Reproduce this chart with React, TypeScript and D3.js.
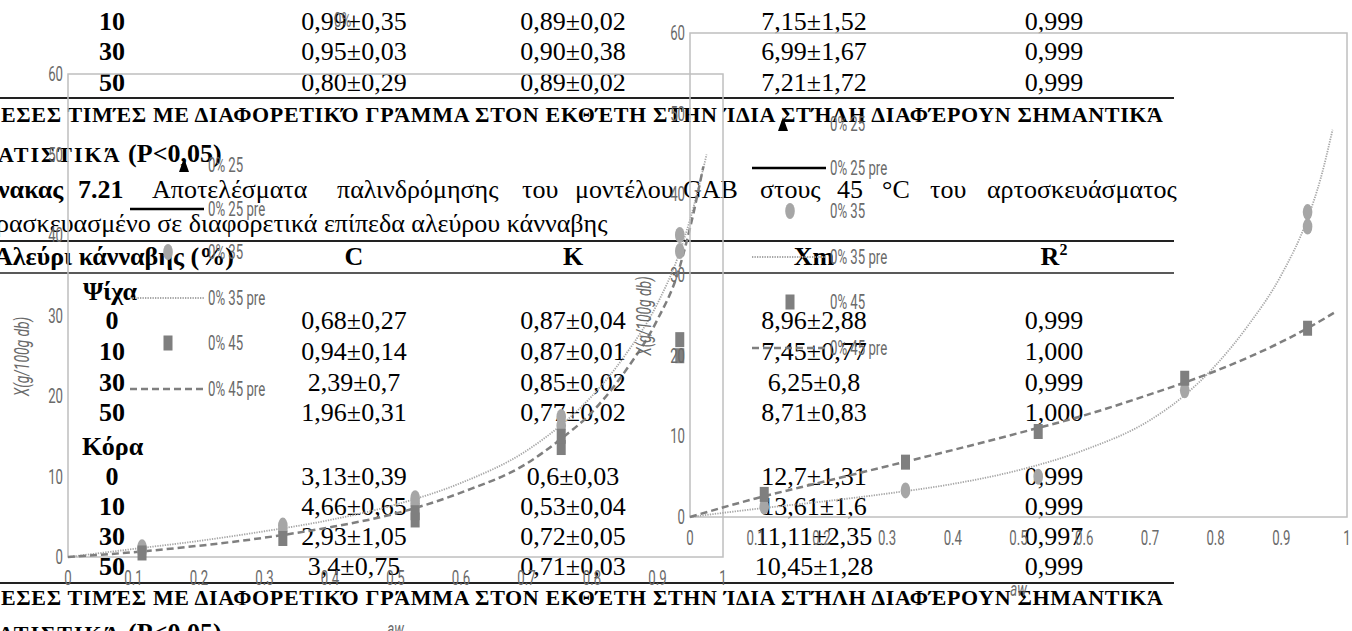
import React from 'react';
import * as d3 from 'd3';

const W = 1352;
const H = 631;

// ---------------- table data ----------------
const prevLevels = ['10', '30', '50'];
const prevC = ['0,99±0,35', '0,95±0,03', '0,80±0,29'];
const prevK = ['0,89±0,02', '0,90±0,38', '0,89±0,02'];
const prevXm = ['7,15±1,52', '6,99±1,67', '7,21±1,72'];
const prevR2 = ['0,999', '0,999', '0,999'];

const crumbLevels = ['0', '10', '30', '50'];
const crumbC = ['0,68±0,27', '0,94±0,14', '2,39±0,7', '1,96±0,31'];
const crumbK = ['0,87±0,04', '0,87±0,01', '0,85±0,02', '0,77±0,02'];
const crumbXm = ['8,96±2,88', '7,45±0,77', '6,25±0,8', '8,71±0,83'];
const crumbR2 = ['0,999', '1,000', '0,999', '1,000'];

const crustLevels = ['0', '10', '30', '50'];
const crustC = ['3,13±0,39', '4,66±0,65', '2,93±1,05', '3,4±0,75'];
const crustK = ['0,6±0,03', '0,53±0,04', '0,72±0,05', '0,71±0,03'];
const crustXm = ['12,7±1,31', '13,61±1,6', '11,11±2,35', '10,45±1,28'];
const crustR2 = ['0,999', '0,999', '0,997', '0,999'];

const noteLine1 = 'ΕΣΕΣ ΤΙΜΈΣ ΜΕ ΔΙΑΦΟΡΕΤΙΚΌ ΓΡΆΜΜΑ ΣΤΟΝ ΕΚΘΈΤΗ ΣΤΗΝ ΊΔΙΑ ΣΤΉΛΗ ΔΙΑΦΈΡΟΥΝ ΣΗΜΑΝΤΙΚΆ';
const noteLine2a = 'ΑΤΙΣΤΙΚΆ';
const noteLine2b = ' (P<0,05)';
const captionWords = ['νακας', '7.21', 'Αποτελέσματα', 'παλινδρόμησης', 'του', 'μοντέλου', 'GAB', 'στους', '45', '°C', 'του', 'αρτοσκευάσματος'];
const captionLine2 = 'ρασκευασμένο σε διαφορετικά επίπεδα αλεύρου κάνναβης';
const headers = ['C', 'K', 'Xm', 'R'];
const firstHeader = 'Αλεύρι κάνναβης (%)';
const groupNames = ['Ψίχα', 'Κόρα'];
const strayLabel = '0%';

// ---------------- chart data ----------------
const xTicks = [0, 0.1, 0.2, 0.3, 0.4, 0.5, 0.6, 0.7, 0.8, 0.9, 1];
const yTicks = [0, 10, 20, 30, 40, 50, 60];
const legendLabels = ['0% 25', '0% 25 pre', '0% 35', '0% 35 pre', '0% 45', '0% 45 pre'];
const yTitle = 'X(g/100g db)';
const xTitle = 'aw';

// crumb (left chart)
const crumbAw35 = [0.113, 0.113, 0.328, 0.328, 0.53, 0.53, 0.753, 0.753, 0.934, 0.934];
const crumbX35 = [0.8, 1.2, 3.3, 3.9, 6.6, 7.3, 16.3, 17.4, 38, 40];
const crumbAw45 = [0.113, 0.328, 0.53, 0.53, 0.753, 0.753, 0.934, 0.934];
const crumbX45 = [0.5, 2.3, 4.6, 5.5, 13.6, 15.0, 25, 27];
const crumbFitAw35 = [0, 0.1, 0.2, 0.3, 0.4, 0.5, 0.6, 0.7, 0.75, 0.8, 0.85, 0.9, 0.93, 0.95, 0.975];
const crumbFit35 = [0, 1.0, 2.0, 3.2, 4.6, 6.5, 9.2, 13.2, 16.2, 20, 25, 31.5, 37, 42, 50];
const crumbFitAw45 = [0, 0.1, 0.2, 0.3, 0.4, 0.5, 0.6, 0.7, 0.75, 0.8, 0.85, 0.9, 0.93, 0.95, 0.97];
const crumbFit45 = [0, 0.6, 1.4, 2.4, 3.7, 5.4, 8.0, 11.6, 14.5, 18, 23, 29.5, 35, 41, 48.5];

// crust (right chart)
const crustAw35 = [0.113, 0.328, 0.53, 0.753, 0.94, 0.94];
const crustX35 = [1.3, 3.3, 5.0, 15.7, 36.0, 37.8];
const crustAw45 = [0.113, 0.328, 0.53, 0.753, 0.94];
const crustX45 = [2.8, 6.8, 10.6, 17.2, 23.4];
const crustFitAw35 = [0, 0.1, 0.2, 0.3, 0.4, 0.5, 0.6, 0.7, 0.75, 0.8, 0.85, 0.9, 0.94, 0.96, 0.978];
const crustFit35 = [0, 1.0, 1.9, 2.9, 4.1, 5.8, 8.3, 12.0, 14.9, 18.8, 23.8, 30, 37, 42, 48];
const crustFitAw45 = [0, 0.1, 0.2, 0.3, 0.4, 0.5, 0.6, 0.7, 0.8, 0.9, 0.94, 0.98];
const crustFit45 = [0, 2.3, 4.3, 6.3, 8.3, 10.4, 12.6, 15.2, 18.1, 21.7, 23.4, 25.3];

// ---------------- styles ----------------
const SERIF = "'Liberation Serif', 'Times New Roman', serif";
const NARROW = "Roboto, 'Open Sans', 'Noto Sans', sans-serif";
const SQUEEZE = 0.66;
const AXIS_GRAY = '#6a6a6a';
const FRAME = '#bfbfbf';
const C35 = '#a6a6a6';
const C45 = '#7f7f7f';

// layout constants (document)
const colLbl = 112;
const colC = 354;
const colK = 573;
const colXm = 814;
const colR2 = 1054;
const ruleEnd = 1174;
const captionX = [-2, 78, 152, 337, 522, 575, 683, 760, 837, 882, 930, 987];

function NText({ x, y, anchor = 'start', rotate = 0, size = 20, italic = false, children }: any) {
  return (
    <text
      transform={`translate(${x},${y}) rotate(${rotate}) scale(${SQUEEZE},1)`}
      textAnchor={anchor}
      dominantBaseline="central"
      fontFamily={NARROW}
      fontWeight={400}
      fontStyle={italic ? 'italic' : 'normal'}
      fontSize={size}
      fill={AXIS_GRAY}
    >
      {children}
    </text>
  );
}

function Row({ y, lbl, c, k, xm, r2 }: any) {
  const b = y + 8;
  return (
    <g fontFamily={SERIF} fontSize={26} fill="#000">
      <text x={colLbl} y={b} textAnchor="middle" fontWeight="bold">{lbl}</text>
      <text x={colC} y={b} textAnchor="middle">{c}</text>
      <text x={colK} y={b} textAnchor="middle">{k}</text>
      <text x={colXm} y={b} textAnchor="middle">{xm}</text>
      <text x={colR2} y={b} textAnchor="middle">{r2}</text>
    </g>
  );
}

function DocText() {
  const prevY = [22, 52, 83];
  const crumbY = [321, 352, 383, 413];
  const crustY = [477, 507, 537, 567];
  return (
    <g>
      {prevLevels.map((l, i) => (
        <Row key={'p' + i} y={prevY[i]} lbl={l} c={prevC[i]} k={prevK[i]} xm={prevXm[i]} r2={prevR2[i]} />
      ))}
      <NText x={334} y={20} size={20}>{strayLabel}</NText>
      <line x1={0} x2={ruleEnd} y1={98} y2={98} stroke="#222" strokeWidth={2} />
      <text x={1} y={122} fontFamily={SERIF} fontSize={22} fontWeight="bold" textLength={1162} lengthAdjust="spacing">{noteLine1}</text>
      <text x={-2} y={162} fontFamily={SERIF} fontWeight="bold">
        <tspan fontSize={22} letterSpacing={2}>{noteLine2a}</tspan>
        <tspan fontSize={26}>{noteLine2b}</tspan>
      </text>
      {captionWords.map((w, i) => (
        <text key={'cw' + i} x={captionX[i]} y={198} fontFamily={SERIF} fontSize={26} fontWeight={i < 2 ? 'bold' : 'normal'}>{w}</text>
      ))}
      <text x={-4} y={232} fontFamily={SERIF} fontSize={26}>{captionLine2}</text>
      <line x1={0} x2={ruleEnd} y1={241} y2={241} stroke="#222" strokeWidth={2} />
      <g fontFamily={SERIF} fontSize={26} fontWeight="bold">
        <text x={-6} y={265}>{firstHeader}</text>
        <text x={colC} y={265} textAnchor="middle">{headers[0]}</text>
        <text x={colK} y={265} textAnchor="middle">{headers[1]}</text>
        <text x={colXm} y={265} textAnchor="middle">{headers[2]}</text>
        <text x={colR2} y={265} textAnchor="middle">{headers[3]}<tspan fontSize={16} dy={-10}>2</tspan></text>
      </g>
      <line x1={0} x2={ruleEnd} y1={273} y2={273} stroke="#222" strokeWidth={1.6} />
      <text x={83} y={300} fontFamily={SERIF} fontSize={26} fontWeight="bold">{groupNames[0]}</text>
      {crumbLevels.map((l, i) => (
        <Row key={'c' + i} y={crumbY[i]} lbl={l} c={crumbC[i]} k={crumbK[i]} xm={crumbXm[i]} r2={crumbR2[i]} />
      ))}
      <text x={82} y={455} fontFamily={SERIF} fontSize={26} fontWeight="bold">{groupNames[1]}</text>
      {crustLevels.map((l, i) => (
        <Row key={'k' + i} y={crustY[i]} lbl={l} c={crustC[i]} k={crustK[i]} xm={crustXm[i]} r2={crustR2[i]} />
      ))}
      <line x1={0} x2={ruleEnd} y1={583} y2={583} stroke="#222" strokeWidth={2} />
      <text x={1} y={605} fontFamily={SERIF} fontSize={22} fontWeight="bold" textLength={1162} lengthAdjust="spacing">{noteLine1}</text>
      <text x={-2} y={641} fontFamily={SERIF} fontWeight="bold">
        <tspan fontSize={22} letterSpacing={2}>{noteLine2a}</tspan>
        <tspan fontSize={26}>{noteLine2b}</tspan>
      </text>
    </g>
  );
}

function Chart({ ox, oy, w, h, aw35, x35, aw45, x45, fitAw35, fit35, fitAw45, fit45, triDx }: any) {
  const x = d3.scaleLinear().domain([0, 1]).range([ox, ox + w]);
  const y = d3.scaleLinear().domain([0, 60]).range([oy + h, oy]);
  const line = d3
    .line<[number, number]>()
    .x((d) => x(d[0]))
    .y((d) => y(d[1]))
    .curve(d3.curveMonotoneX);
  const f35 = fitAw35.map((a: number, i: number) => [a, fit35[i]] as [number, number]);
  const f45 = fitAw45.map((a: number, i: number) => [a, fit45[i]] as [number, number]);
  const legY = [91, 135, 178, 224, 269, 315].map((v) => oy + v);
  const lx1 = ox + 62;
  const lx2 = ox + 136;
  const mx = ox + 100;
  const tmx = mx + triDx;
  const tx = ox + 140;
  return (
    <g>
      <rect x={ox} y={oy} width={w} height={h} fill="none" stroke={FRAME} strokeWidth={1.5} />
      {yTicks.map((t) => (
        <NText key={'y' + t} x={ox - 5} y={y(t)} anchor="end">{t}</NText>
      ))}
      {xTicks.map((t) => (
        <NText key={'x' + t} x={x(t)} y={oy + h + 21} anchor="middle">{d3.format('~g')(t)}</NText>
      ))}
      <NText x={ox - 47} y={oy + h / 2 + 41} anchor="middle" rotate={-90} italic size={21}>{yTitle}</NText>
      <NText x={ox + w / 2} y={oy + h + 72} anchor="middle" italic size={20}>{xTitle}</NText>
      {/* fitted curves */}
      <path d={line(f35) || ''} fill="none" stroke={C35} strokeWidth={1.8} strokeDasharray="1.3 1.2" />
      <path d={line(f45) || ''} fill="none" stroke={C45} strokeWidth={2.5} strokeDasharray="7 4" />
      {/* data markers */}
      {aw35.map((a: number, i: number) => (
        <ellipse key={'c' + i} cx={x(a)} cy={y(x35[i])} rx={4.8} ry={8} fill={C35} />
      ))}
      {aw45.map((a: number, i: number) => (
        <rect key={'s' + i} x={x(a) - 4.5} y={y(x45[i]) - 7.5} width={9} height={15} fill={C45} />
      ))}
      {/* legend */}
      <path d={`M${tmx - 5},${legY[0] + 7} L${tmx},${legY[0] - 7} L${tmx + 5},${legY[0] + 7} Z`} fill="#000" />
      <line x1={lx1} x2={lx2} y1={legY[1]} y2={legY[1]} stroke="#000" strokeWidth={2.5} />
      <ellipse cx={mx} cy={legY[2]} rx={4.8} ry={8} fill={C35} />
      <line x1={lx1} x2={lx2} y1={legY[3]} y2={legY[3]} stroke={C35} strokeWidth={1.8} strokeDasharray="1.3 1.2" />
      <rect x={mx - 4.5} y={legY[4] - 7.5} width={9} height={15} fill={C45} />
      <line x1={lx1} x2={lx2} y1={legY[5]} y2={legY[5]} stroke={C45} strokeWidth={2.5} strokeDasharray="7 4" />
      {legendLabels.map((l, i) => (
        <NText key={'l' + i} x={tx} y={legY[i]}>{l}</NText>
      ))}
    </g>
  );
}

export default function App() {
  return (
    <svg width={W} height={H} style={{ position: 'absolute', left: 0, top: 0, background: '#fff' }}>
      <DocText />
      <Chart
        ox={68}
        oy={74}
        w={655}
        h={483}
        triDx={16}
        aw35={crumbAw35}
        x35={crumbX35}
        aw45={crumbAw45}
        x45={crumbX45}
        fitAw35={crumbFitAw35}
        fit35={crumbFit35}
        fitAw45={crumbFitAw45}
        fit45={crumbFit45}
      />
      <Chart
        ox={690}
        oy={33}
        w={657}
        h={484}
        triDx={-7}
        aw35={crustAw35}
        x35={crustX35}
        aw45={crustAw45}
        x45={crustX45}
        fitAw35={crustFitAw35}
        fit35={crustFit35}
        fitAw45={crustFitAw45}
        fit45={crustFit45}
      />
    </svg>
  );
}
